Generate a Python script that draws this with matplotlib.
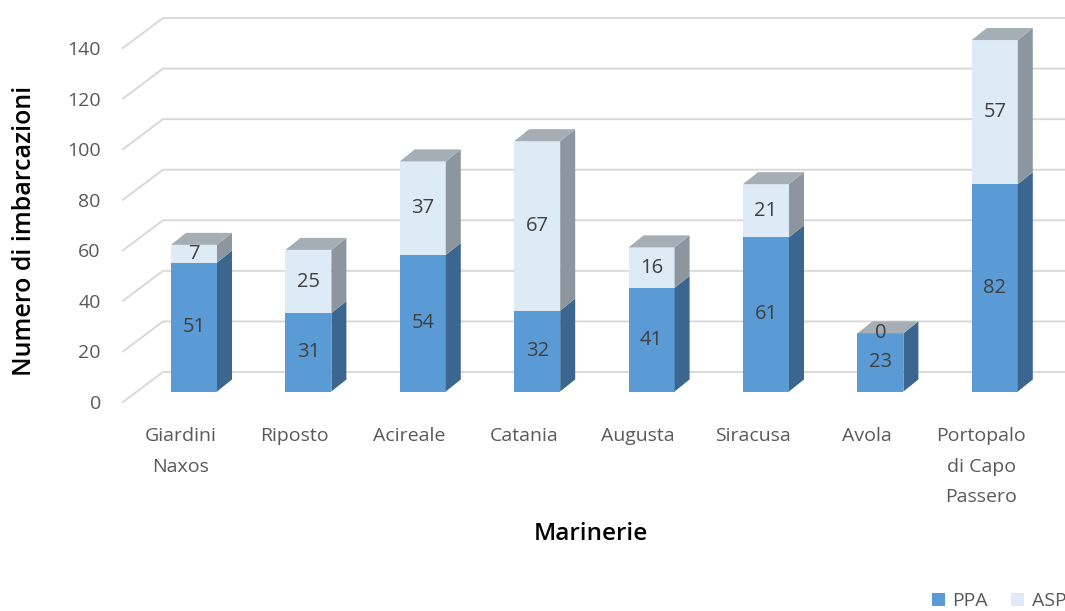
import matplotlib
matplotlib.use("Agg")
import matplotlib.pyplot as plt
from matplotlib.patches import Polygon, Patch

plt.rcParams['font.family'] = ['Open Sans', 'DejaVu Sans']

# Boats per harbour, split by fishing type
marinerie = ['Giardini\nNaxos', 'Riposto', 'Acireale', 'Catania', 'Augusta',
             'Siracusa', 'Avola', 'Portopalo\ndi Capo\nPassero']
ppa = [51, 31, 54, 32, 41, 61, 23, 82]
asp = [7, 25, 37, 67, 16, 21, 0, 57]
y_ticks = [0, 20, 40, 60, 80, 100, 120, 140]

W, H = 1065, 611
fig = plt.figure(figsize=(W / 100, H / 100), dpi=100)

# front plane of the pseudo-3D box in pixels
left_px, zero_px, top_px = 123, 402, 48
px_x = 114.4                      # pixels per category
px_y = (zero_px - top_px) / 140   # pixels per unit
ax = fig.add_axes([left_px / W, (H - zero_px) / H, (W - left_px) / W, (zero_px - top_px) / H])
xmin = -(180.5 - left_px) / px_x
ax.set_xlim(xmin, xmin + (W - left_px) / px_x)
ax.set_ylim(0, 140)


def dx(p):
    return p / px_x


def dy(p):
    return p / px_y


grid_c = '#d9d9d9'
# floor-to-wall diagonals and back wall gridlines
for v in y_ticks:
    x0, y0 = xmin, v
    x1, y1 = xmin + dx(40), v + dy(30)
    ax.plot([x0, x1, ax.get_xlim()[1]], [y0, y1, y1], color=grid_c, lw=1.4,
            clip_on=False, zorder=1, solid_joinstyle='miter')

# bar geometry
bw = 0.402
off_x, off_y = dx(13.5), dy(10.5)
dep_x, dep_y = dx(15), dy(12)

ppa_front, ppa_side = '#5b9bd5', '#3a6690'
asp_front, asp_side, asp_top = '#ddebf7', '#8d969e', '#a5adb5'


def draw_box(xc, y0, y1, front, side, top=None):
    xl, xr = xc + off_x - bw / 2, xc + off_x + bw / 2
    b0, b1 = y0 + off_y, y1 + off_y
    ax.add_patch(Polygon([(xl, b0), (xr, b0), (xr, b1), (xl, b1)], closed=True,
                         facecolor=front, edgecolor='none', zorder=3, clip_on=False))
    ax.add_patch(Polygon([(xr, b0), (xr + dep_x, b0 + dep_y), (xr + dep_x, b1 + dep_y), (xr, b1)],
                         closed=True, facecolor=side, edgecolor='none', zorder=3, clip_on=False))
    if top is not None:
        ax.add_patch(Polygon([(xl, b1), (xr, b1), (xr + dep_x, b1 + dep_y), (xl + dep_x, b1 + dep_y)],
                             closed=True, facecolor=top, edgecolor='none', zorder=3, clip_on=False))


lab_c = '#404040'
for i, (p, a) in enumerate(zip(ppa, asp)):
    draw_box(i, 0, p, ppa_front, ppa_side)
    draw_box(i, p, p + a, asp_front, asp_side, asp_top)
    ax.text(i + off_x, p / 2 + off_y, str(p), ha='center', va='center',
            fontsize=14.5, color=lab_c, zorder=5)
    ax.text(i + off_x, p + a / 2 + off_y, str(a), ha='center', va='center',
            fontsize=14.5, color=lab_c, zorder=5)

for s in ax.spines.values():
    s.set_visible(False)
ax.set_yticks(y_ticks)
ax.set_yticklabels([str(v) for v in y_ticks])
ax.set_xticks(range(len(marinerie)))
ax.set_xticklabels(marinerie, linespacing=1.9)
ax.tick_params(axis='y', length=0, pad=16, labelsize=14, labelcolor='#595959')
ax.tick_params(axis='x', length=0, pad=18, labelsize=14, labelcolor='#595959')

ax.set_ylabel('Numero di imbarcazioni', fontsize=18, fontweight='semibold', color='black')
ax.yaxis.set_label_coords(-0.091, 0.483)
ax.set_xlabel('Marinerie', fontsize=17.5, fontweight='semibold', color='black')
ax.xaxis.set_label_coords(0.497, -0.34)

handles = [Patch(facecolor=ppa_front, label='PPA'), Patch(facecolor=asp_front, label='ASP')]
fig.legend(handles=handles, loc='center left', bbox_to_anchor=(932 / W, 1 - 601 / H),
           ncol=2, frameon=False, fontsize=14, labelcolor='#595959',
           handlelength=0.65, handleheight=0.65, handletextpad=0.4, columnspacing=1.2,
           borderpad=0, borderaxespad=0)

fig.savefig('out.png', dpi=100)
